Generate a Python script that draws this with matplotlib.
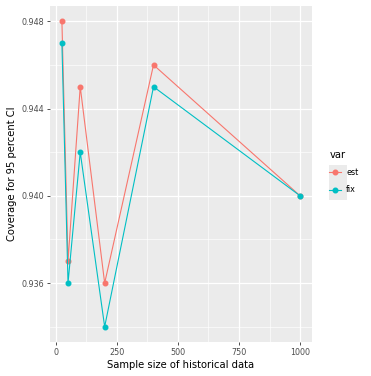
import matplotlib.pyplot as plt
import numpy as np
from matplotlib.lines import Line2D
from matplotlib.patches import Rectangle

sizes = [25, 50, 100, 200, 400, 1000]
est = [0.948, 0.937, 0.945, 0.936, 0.946, 0.940]
fix = [0.947, 0.936, 0.942, 0.934, 0.945, 0.940]

red = '#F8766D'
teal = '#00BFC4'

fig = plt.figure(figsize=(3.71, 3.76), dpi=100)
ax = fig.add_axes([50 / 371, 1 - 342 / 376, 262 / 371, 336 / 376])
ax.set_facecolor('#EBEBEB')

ax.plot(sizes, est, color=red, lw=0.8, marker='o', ms=3.3, zorder=3)
ax.plot(sizes, fix, color=teal, lw=0.8, marker='o', ms=3.3, zorder=3)

ax.set_xlim(25 - 0.05 * 975, 1000 + 0.05 * 975)
ax.set_ylim(0.934 - 0.05 * 0.014, 0.948 + 0.05 * 0.014)
ax.set_xticks([0, 250, 500, 750, 1000])
ax.set_yticks([0.936, 0.940, 0.944, 0.948])
ax.set_xticks([125, 375, 625, 875], minor=True)
ax.set_yticks([0.934, 0.938, 0.942, 0.946], minor=True)
ax.grid(True, which='major', color='white', lw=0.9)
ax.grid(True, which='minor', color='white', lw=0.45)
ax.set_axisbelow(True)
for s in ax.spines.values():
    s.set_visible(False)
ax.tick_params(which='major', length=2.5, width=0.6, color='#333333',
               labelsize=5.8, labelcolor='#4D4D4D', pad=2)
ax.tick_params(which='minor', length=0)
ax.set_yticklabels(['0.936', '0.940', '0.944', '0.948'])
ax.set_xlabel('Sample size of historical data', fontsize=7.2, labelpad=2)
ax.set_ylabel('Coverage for 95 percent CI', fontsize=7.2)
ax.yaxis.set_label_coords(-33 / 262, 0.5)

# grey key background like ggplot
fig.patches.append(Rectangle((329 / 371, 1 - 200 / 376), 18 / 371, 35 / 376,
                             transform=fig.transFigure, facecolor='#EBEBEB',
                             edgecolor='none', zorder=0))

handles = [Line2D([], [], color=red, lw=0.8, marker='o', ms=3.3),
           Line2D([], [], color=teal, lw=0.8, marker='o', ms=3.3)]
leg = fig.legend(handles, ['est', 'fix'], title='var', loc='upper left',
                 bbox_to_anchor=(322 / 371, 1 - 143 / 376), frameon=False,
                 fontsize=5.8, title_fontsize=7.2, handlelength=1.5,
                 handletextpad=0.6, labelspacing=1.0)
leg._legend_box.align = 'left'

fig.savefig('out.png', dpi=100)
